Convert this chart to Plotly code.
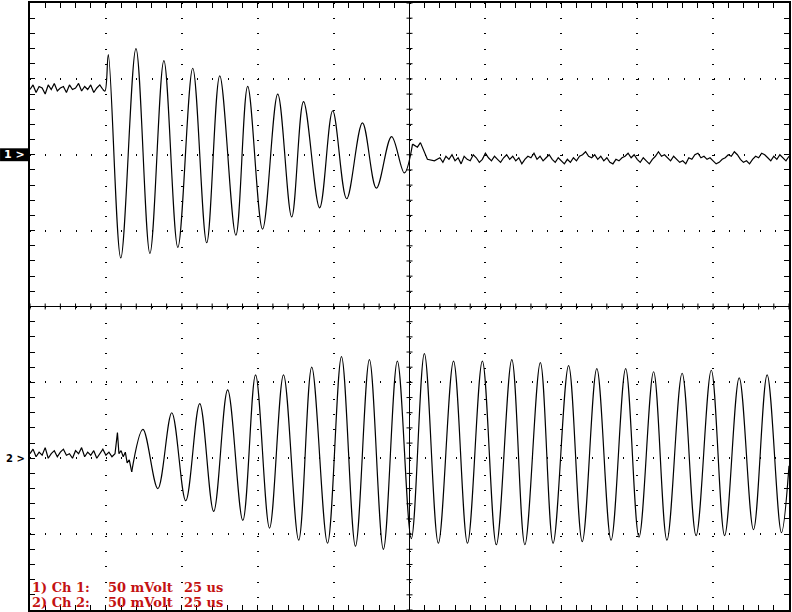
import plotly.graph_objects as go

# ---------------- data (time in microseconds, voltage in mV) ----------------
TIME_PER_DIV_US = 25
VOLT_PER_DIV_MV = 50
CH1_OFFSET_DIV = 2      # channel 1 ground marker position (divisions from centre)
CH2_OFFSET_DIV = -2     # channel 2 ground marker position

# Channel 1: pre-trigger noisy baseline
CH1_PRE_T = list(range(0, 25))
CH1_PRE_MV = [43, 46, 41, 45, 44, 40, 46, 43, 47, 42, 44, 45, 41, 46, 43, 44, 47, 42,
              45, 43, 46, 41, 44, 46, 43]

# Channel 1: damped burst (peaks and troughs)
CH1_BURST_T = [24.0, 24.7, 25.8, 29.9, 34.9, 39.5, 44.1, 48.7, 53.6, 58.2, 62.5, 67.8,
               71.7, 76.6, 81.6, 86.2, 90.1, 95.4, 99.7, 104.3, 109.5, 114.1, 119.1,
               123.3, 126.0]
CH1_BURST_MV = [43, 42, 66, -68, 70, -65, 62, -61, 57, -58, 52, -53, 45, -49, 40, -41,
                35, -35, 29, -29, 21, -22, 12, -12, 7]

# Channel 1: after the burst
CH1_POST_T = [126.0, 127.6, 128.6, 130.9, 133.2] + list(range(135, 251))
CH1_POST_MV = [7, 5, 8, -3, -4,
               -2, -5, -1, -3, 0, -4, -2, -6, -1, -3,
               -4, 0, -2, -5, -3, 1, -2, -4, -1, -3,
               -5, -2, 0, -3, -1, -4, -2, -6, -3, -1,
               -2, 1, -3, -1, -4, -2, 0, -3, -5, -2,
               -4, -6, -3, -5, -2, -4, -1, 0, 2, -1,
               -2, 0, -3, -1, -4, -2, -5, -6, -3, -4,
               -2, -1, 1, -2, 0, -3, -5, -2, -4, -6,
               -3, -1, 2, -1, 0, -2, -4, -1, -3, -5,
               -4, -6, -2, -3, 0, 1, -2, -1, -3, -2,
               -4, -6, -5, -3, -2, 0, -1, 2, 0, -3,
               -5, -4, -6, -3, -1, -2, 1, 0, -2, -4,
               -1, -3, 0, -2, -4, -1]

# Channel 2: pre-trigger noisy baseline
CH2_PRE_T = list(range(0, 29)) + [28.8, 29.3, 30.0, 30.7, 31.4, 32.0, 32.7, 33.5]
CH2_PRE_MV = [3, 6, 1, 4, 2, 7, 0, 3, 5, 1, 4, 6, 2, 3, 0, 5, 3, 7, 1, 4, 2, 5, 0, 3,
              6, 2, 4, 1, 3, 17, 3, 5, 1, 4, -3, -1, -9]

# Channel 2: growing oscillation (peaks and troughs)
CH2_SINE_T = [33.5, 37.2, 42.1, 46.7, 51.3, 55.9, 60.5, 65.1, 70.1, 74.3, 78.9, 83.5,
              88.5, 92.8, 98.0, 102.6, 107.2, 111.8, 116.4, 121.0, 125.6, 129.9, 134.5,
              139.5, 144.1, 149.0, 153.6, 158.7, 163.0, 168.1, 172.3, 177.4, 181.9,
              186.7, 191.4, 196.2, 200.6, 205.4, 209.8, 214.8, 219.4, 224.4, 228.8,
              233.6, 238.3, 242.8, 247.5, 250.0]
CH2_SINE_MV = [-9, 19, -20, 30, -28, 36, -35, 45, -41, 55, -46, 55, -54, 60, -56, 67,
               -58, 65, -60, 64, -53, 69, -56, 64, -56, 64, -57, 65, -57, 63, -56, 61,
               -55, 59, -54, 59, -52, 57, -54, 56, -51, 58, -51, 53, -47, 55, -49, -5]

LABEL_CH1 = "1) Ch 1:"
LABEL_CH2 = "2) Ch 2:"
LABEL_VOLT = "50 mVolt"
LABEL_TIME = "25 us"


def to_div(values, offset):
    return [offset + v / VOLT_PER_DIV_MV for v in values]


fig = go.Figure()
line = dict(color="black", width=1.2)
spline = dict(color="black", width=1.2, shape="spline", smoothing=1.0)

fig.add_trace(go.Scatter(x=CH1_PRE_T, y=to_div(CH1_PRE_MV, CH1_OFFSET_DIV),
                         mode="lines", line=line, hoverinfo="skip"))
fig.add_trace(go.Scatter(x=CH1_BURST_T, y=to_div(CH1_BURST_MV, CH1_OFFSET_DIV),
                         mode="lines", line=spline, hoverinfo="skip"))
fig.add_trace(go.Scatter(x=CH1_POST_T, y=to_div(CH1_POST_MV, CH1_OFFSET_DIV),
                         mode="lines", line=line, hoverinfo="skip"))
fig.add_trace(go.Scatter(x=CH2_PRE_T, y=to_div(CH2_PRE_MV, CH2_OFFSET_DIV),
                         mode="lines", line=line, hoverinfo="skip"))
fig.add_trace(go.Scatter(x=CH2_SINE_T, y=to_div(CH2_SINE_MV, CH2_OFFSET_DIV),
                         mode="lines", line=spline, hoverinfo="skip"))

# ---------------- graticule ----------------
X_DIVS, Y_DIVS = 10, 8
XMAX = X_DIVS * TIME_PER_DIV_US
XC = XMAX / 2
W_PX, H_PX = 760, 609
minor_dx = TIME_PER_DIV_US / 5
minor_dy = 0.2
tick_half_x = 3 * XMAX / W_PX
tick_half_y = 3 * Y_DIVS / H_PX

path = f"M0,0L{XMAX},0M{XC},{-Y_DIVS/2}L{XC},{Y_DIVS/2}"
for i in range(X_DIVS * 5 + 1):
    x = i * minor_dx
    path += f"M{x},{-tick_half_y}L{x},{tick_half_y}"
for j in range(Y_DIVS * 5 + 1):
    y = -Y_DIVS / 2 + j * minor_dy
    path += f"M{XC - tick_half_x},{y}L{XC + tick_half_x},{y}"

shapes = [dict(type="path", path=path, xref="x", yref="y",
               line=dict(color="black", width=1), layer="below")]
# channel-1 ground marker box
shapes.append(dict(type="rect", xref="paper", yref="y",
                   x0=-30 / W_PX, x1=-1 / W_PX,
                   y0=CH1_OFFSET_DIV - 0.085, y1=CH1_OFFSET_DIV + 0.085,
                   fillcolor="black", line=dict(width=0)))

red = "#c41212"
tfont = dict(family="DejaVu Serif", size=13, color=red, weight="bold")
Y1, Y2 = -3.70, -3.90
annotations = [
    dict(x=0, y=Y1, xref="paper", yref="y", text=LABEL_CH1, showarrow=False,
         xanchor="left", yanchor="middle", font=tfont),
    dict(x=0, y=Y2, xref="paper", yref="y", text=LABEL_CH2, showarrow=False,
         xanchor="left", yanchor="middle", font=tfont),
    dict(x=TIME_PER_DIV_US, y=Y1, xref="x", yref="y", text=LABEL_VOLT, showarrow=False,
         xanchor="left", yanchor="middle", font=tfont, xshift=0),
    dict(x=TIME_PER_DIV_US, y=Y2, xref="x", yref="y", text=LABEL_VOLT, showarrow=False,
         xanchor="left", yanchor="middle", font=tfont, xshift=0),
    dict(x=2 * TIME_PER_DIV_US, y=Y1, xref="x", yref="y", text=LABEL_TIME, showarrow=False,
         xanchor="left", yanchor="middle", font=tfont, xshift=0),
    dict(x=2 * TIME_PER_DIV_US, y=Y2, xref="x", yref="y", text=LABEL_TIME, showarrow=False,
         xanchor="left", yanchor="middle", font=tfont, xshift=0),
    dict(x=-3 / W_PX, y=CH1_OFFSET_DIV, xref="paper", yref="y", text="1 >", showarrow=False,
         xanchor="right", yanchor="middle",
         font=dict(family="DejaVu Sans", size=11, color="white", weight="bold")),
    dict(x=-3 / W_PX, y=CH2_OFFSET_DIV, xref="paper", yref="y", text="2 >", showarrow=False,
         xanchor="right", yanchor="middle",
         font=dict(family="DejaVu Sans", size=10, color="black", weight="bold")),
]

axis_common = dict(
    showline=True, linecolor="black", linewidth=1.5, mirror="ticks",
    ticks="inside", ticklen=5, tickwidth=1, tickcolor="black",
    showticklabels=False, zeroline=False,
    showgrid=True, gridcolor="black", gridwidth=2,
)

fig.update_layout(
    width=792, height=612,
    margin=dict(l=30, r=2, t=1, b=2),
    paper_bgcolor="white", plot_bgcolor="white",
    showlegend=False,
    shapes=shapes, annotations=annotations,
    xaxis=dict(range=[0, XMAX], tick0=0, dtick=TIME_PER_DIV_US,
               griddash="1px,14.225px",
               minor=dict(dtick=minor_dx, tick0=0, ticks="inside", ticklen=5,
                          tickcolor="black", showgrid=False),
               **axis_common),
    yaxis=dict(range=[-Y_DIVS / 2, Y_DIVS / 2], tick0=0, dtick=1,
               griddash="1px,14.2px",
               minor=dict(dtick=minor_dy, tick0=0, ticks="inside", ticklen=5,
                          tickcolor="black", showgrid=False),
               **axis_common),
)

fig.write_html(
    "out.html",
    config={"displayModeBar": False},
    post_script="document.body.style.margin='0';document.body.style.padding='0';"
                "document.documentElement.style.overflow='hidden';",
)
